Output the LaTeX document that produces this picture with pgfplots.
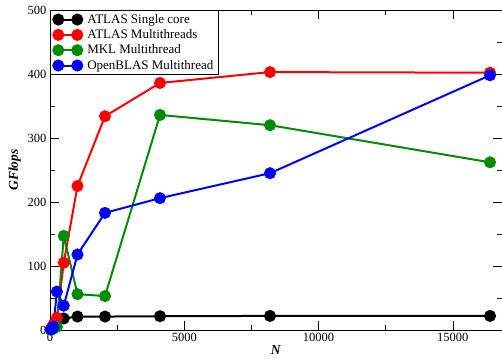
\documentclass[border=0pt]{standalone}
\usepackage{fontspec}
\setmainfont{Liberation Serif}
\usepackage{pgfplots}
\pgfplotsset{compat=1.18}
\definecolor{mgreen}{RGB}{0,140,0}
\begin{document}
\begin{tikzpicture}
\begin{axis}[
  scale only axis,
  width=452pt, height=320pt,
  xmin=0, xmax=16830, ymin=0, ymax=500,
  xtick={0,5000,10000,15000},
  ytick={0,100,200,300,400,500},
  minor x tick num=1, minor y tick num=1,
  tick align=inside,
  major tick length=9pt, minor tick length=5pt,
  tick style={black, line width=0.6pt},
  axis line style={line width=0.7pt},
  scaled x ticks=false,
  /pgf/number format/assume math mode=true,
  /pgf/number format/1000 sep={},
  ticklabel style={font=\fontsize{12.5}{14}\selectfont},
  xlabel={\textbf{\textit{N}}},
  ylabel={\textbf{\textit{GFlops}}},
  label style={font=\fontsize{13.5}{15}\selectfont},
  xlabel style={yshift=3pt},
  ylabel style={yshift=0pt},
  legend style={at={(0,1)}, anchor=north west, draw=black, line width=0.6pt,
    font=\fontsize{13}{15}\selectfont, row sep=0.8pt, inner xsep=3pt, inner ysep=2pt, cells={anchor=west}},
  legend image code/.code={\draw[#1, mark repeat=1] plot coordinates {(0pt,0pt) (19pt,0pt)}; \path (26pt,0pt);},
  every axis plot/.append style={line width=2pt, mark=*, mark size=5pt},
]
\addplot[black, mark options={fill=black}] coordinates {
  (32,1) (64,3) (128,8) (256,15) (512,18) (1024,21) (2048,21) (4096,21.5) (8192,22) (16384,22)};
\addlegendentry{ATLAS Single core}
\addplot[red, mark options={fill=red}] coordinates {
  (32,1) (64,3) (128,8) (256,19) (512,105) (1024,225) (2048,334) (4096,386) (8192,403) (16384,402)};
\addlegendentry{ATLAS Multithreads}
\addplot[mgreen, mark options={fill=mgreen}] coordinates {
  (32,0.5) (64,1) (128,2) (256,5) (512,147) (1024,56) (2048,53) (4096,336) (8192,320) (16384,262)};
\addlegendentry{MKL Multithread}
\addplot[blue, mark options={fill=blue}] coordinates {
  (32,1) (64,2) (128,5) (256,60) (512,38) (1024,118) (2048,183) (4096,206) (8192,245) (16384,398)};
\addlegendentry{OpenBLAS Multithread}
\end{axis}
\pgfresetboundingbox
\path ([shift={(-50pt,-29pt)}]current axis.south west) rectangle ([shift={(0pt,10pt)}]current axis.north east);
\end{tikzpicture}
\end{document}
